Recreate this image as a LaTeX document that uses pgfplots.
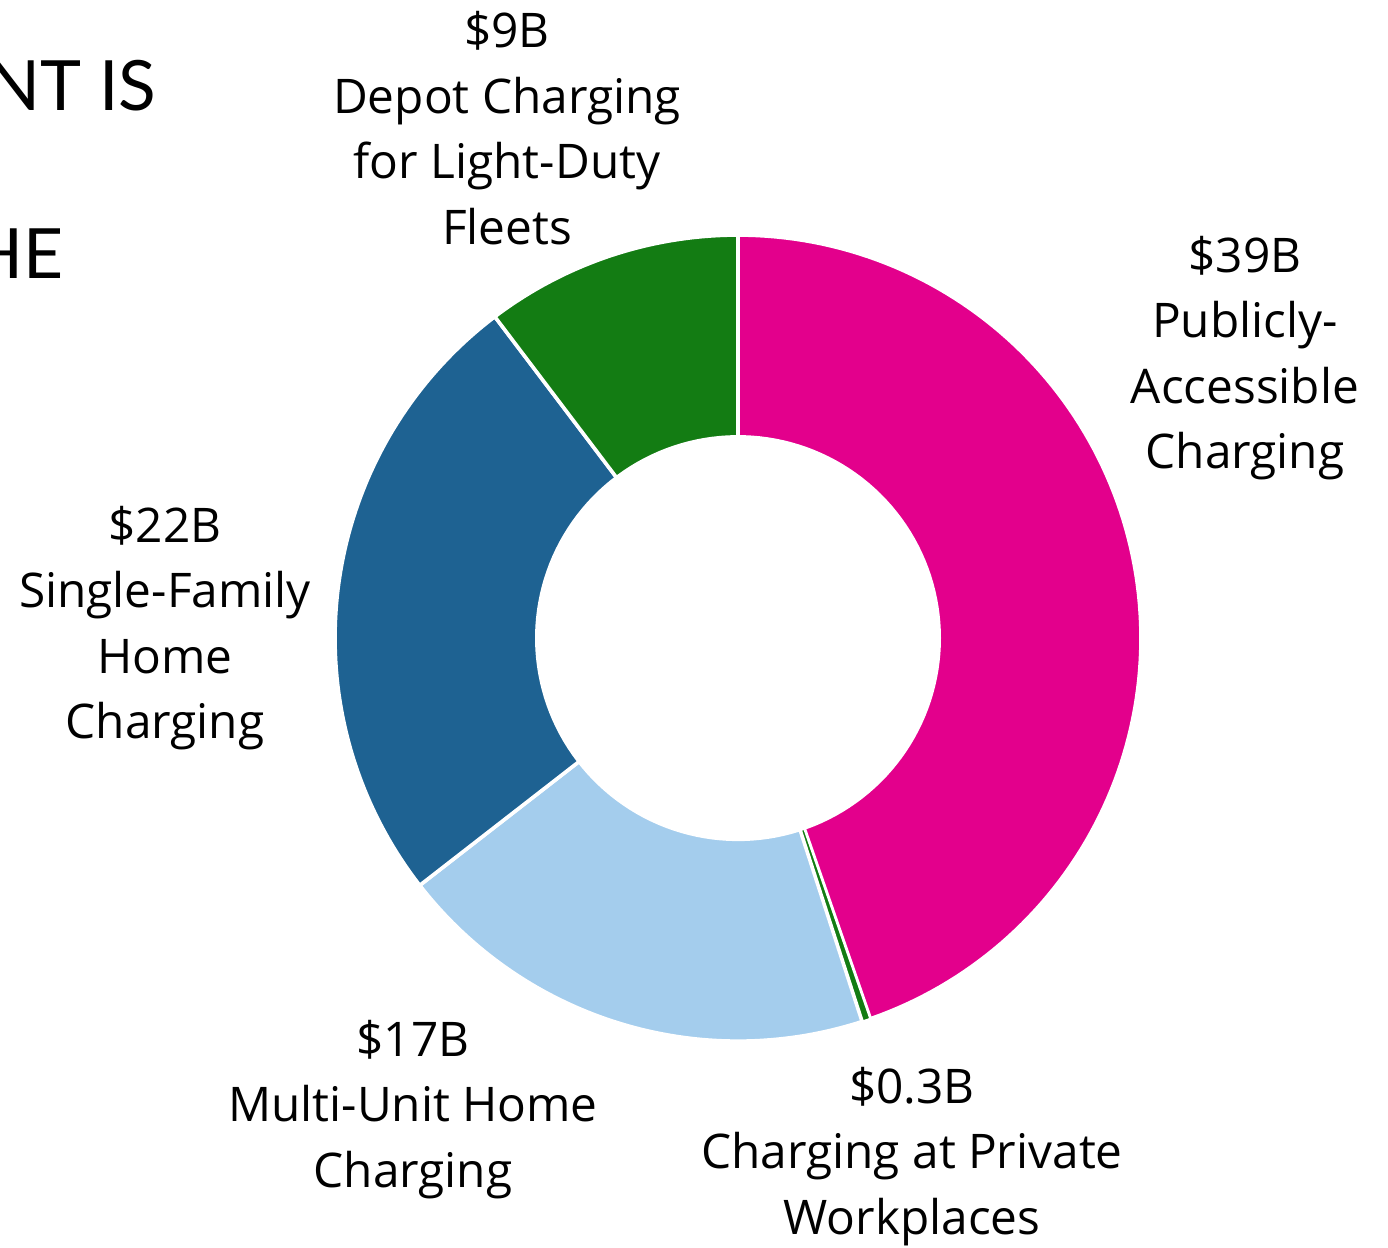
\documentclass[border=0pt]{standalone}
\usepackage{fontspec}
\setmainfont{Open Sans}
\newfontfamily\titlefont{Lato}
\usepackage{pgfplots}
\usepackage{pgfplotstable}
\pgfplotsset{compat=1.18}
\definecolor{pinkc}{RGB}{227,0,140}
\definecolor{greenc}{RGB}{19,124,19}
\definecolor{lightbluec}{RGB}{164,205,237}
\definecolor{darkbluec}{RGB}{30,98,146}

% slice values (billion $), clockwise from 12 o'clock
\pgfplotstableread{
label value
Public 39
Workplace 0.3
MultiUnit 17
SingleFamily 22
Depot 9
}\slices
\pgfplotstablegetelem{0}{value}\of\slices \let\vA\pgfplotsretval
\pgfplotstablegetelem{1}{value}\of\slices \let\vB\pgfplotsretval
\pgfplotstablegetelem{2}{value}\of\slices \let\vC\pgfplotsretval
\pgfplotstablegetelem{3}{value}\of\slices \let\vD\pgfplotsretval
\pgfplotstablegetelem{4}{value}\of\slices \let\vE\pgfplotsretval
\pgfmathsetmacro\tot{\vA+\vB+\vC+\vD+\vE}
\pgfmathsetmacro\aO{90}
\pgfmathsetmacro\aA{\aO-\vA/\tot*360}
\pgfmathsetmacro\aB{\aA-\vB/\tot*360}
\pgfmathsetmacro\aC{\aB-\vC/\tot*360}
\pgfmathsetmacro\aD{\aC-\vD/\tot*360}
\pgfmathsetmacro\aE{\aD-\vE/\tot*360}
\def\cx{738}
\def\cy{609}
\def\Ro{403}
\def\Ri{203}

\begin{document}
\begin{tikzpicture}
\clip (0,0) rectangle (500pt,449.28pt);
\begin{axis}[
  at={(0,0)}, anchor=south west,
  scale only axis, width=500pt, height=449.28pt,
  xmin=0, xmax=1388, ymin=0, ymax=1247,
  hide axis, clip=false,
]
\addplot[fill=pinkc, draw=white, line width=1.3pt, domain=\aA:\aO, samples=120, variable=\t]
  ({\cx+\Ro*cos(\t)},{\cy+\Ro*sin(\t)}) -- (axis cs:\cx,\cy) -- cycle;
\addplot[fill=greenc, draw=white, line width=0.75pt, domain=\aB:\aA, samples=5, variable=\t]
  ({\cx+\Ro*cos(\t)},{\cy+\Ro*sin(\t)}) -- (axis cs:\cx,\cy) -- cycle;
\addplot[fill=lightbluec, draw=white, line width=1.3pt, domain=\aC:\aB, samples=80, variable=\t]
  ({\cx+\Ro*cos(\t)},{\cy+\Ro*sin(\t)}) -- (axis cs:\cx,\cy) -- cycle;
\addplot[fill=darkbluec, draw=white, line width=1.3pt, domain=\aD:\aC, samples=80, variable=\t]
  ({\cx+\Ro*cos(\t)},{\cy+\Ro*sin(\t)}) -- (axis cs:\cx,\cy) -- cycle;
\addplot[fill=greenc, draw=white, line width=1.3pt, domain=\aE:\aD, samples=60, variable=\t]
  ({\cx+\Ro*cos(\t)},{\cy+\Ro*sin(\t)}) -- (axis cs:\cx,\cy) -- cycle;
\addplot[fill=white, draw=none, domain=0:360, samples=160, variable=\t]
  ({\cx+\Ri*cos(\t)},{\cy+\Ri*sin(\t)}) -- cycle;

\begin{scope}[every node/.style={align=center, font=\fontsize{17.2}{23.6}\selectfont, text=black, inner sep=0pt}]
\node at (axis cs:507,1119) {\$9B\\Depot Charging\\for Light-Duty\\Fleets};
\node at (axis cs:1245,889) {\$39B\\Publicly-\\Accessible\\Charging};
\node at (axis cs:165,619) {\$22B\\Single-Family\\Home\\Charging};
\node at (axis cs:413,138) {\$17B\\Multi-Unit Home\\Charging};
\node at (axis cs:912,91) {\$0.3B\\Charging at Private\\Workplaces};
\end{scope}
\node[anchor=base east, inner sep=0pt, font=\titlefont\fontsize{25}{30}\selectfont] at (axis cs:157,1137) {NT IS};
\node[anchor=base east, inner sep=0pt, font=\titlefont\fontsize{25}{30}\selectfont] at (axis cs:64,969) {HE};
\end{axis}
\end{tikzpicture}
\end{document}
